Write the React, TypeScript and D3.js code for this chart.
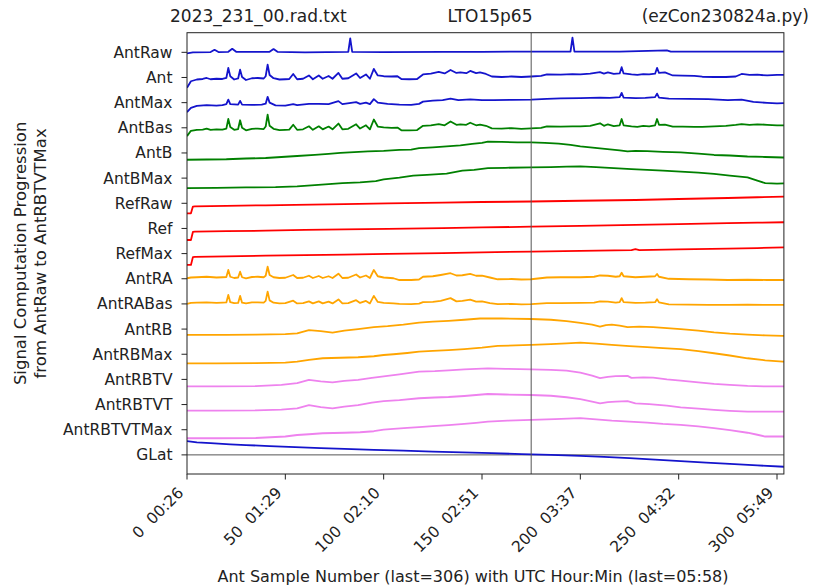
import React from 'react';
import * as d3 from 'd3';

const W = 814;
const H = 588;

const TITLE_LEFT = '2023_231_00.rad.txt';
const TITLE_MID = 'LTO15p65';
const TITLE_RIGHT = '(ezCon230824a.py)';
const X_LABEL = 'Ant Sample Number (last=306) with UTC Hour:Min (last=05:58)';
const Y_LABEL_1 = 'Signal Computation Progression';
const Y_LABEL_2 = 'from AntRaw to AntRBTVTMax';

const X_TICKS = [0, 50, 100, 150, 200, 250, 300];
const X_TICK_TIMES = ['00:26', '01:29', '02:10', '02:51', '03:37', '04:32', '05:49'];
const X_MIN = 0;
const X_MAX = 303.5;
const MARK_SAMPLE = 175;

const LABELS = ['AntRaw', 'Ant', 'AntMax', 'AntBas', 'AntB', 'AntBMax', 'RefRaw', 'Ref', 'RefMax',
  'AntRA', 'AntRABas', 'AntRB', 'AntRBMax', 'AntRBTV', 'AntRBTVT', 'AntRBTVTMax', 'GLat'];

const COLORS = ['#1414cc', '#1414cc', '#1414cc', 'green', 'green', 'green', 'red', 'red', 'red',
  'orange', 'orange', 'orange', 'orange', 'violet', 'violet', 'violet', '#1414cc'];

type P = [number, number];

const antRaw: P[] = [[0,-0.04],[3,0],[12,0.01],[14,0.1],[16,0.01],[21,0.02],[23,0.14],[25,0.02],[42,0.02],[44,0.13],[46,0.02],[60,0],[82,0.02],[83,0.55],[84,0.02],[100,0.01],[130,0.02],[150,0.02],[175,0.03],[195,0.03],[196,0.58],[197,0.03],[220,0.03],[244,0.08],[246,0.03],[270,0.03],[306,0.03]];

const ant: P[] = [[0,-0.41],[2,-0.15],[5,-0.08],[8,-0.06],[10,-0.02],[12,-0.07],[15,-0.05],[18,-0.06],[20,-0.02],[21,0.38],[22,0.05],[24,-0.08],[26,-0.04],[27,0.31],[28,0.02],[30,-0.1],[33,-0.03],[36,-0.02],[39,-0.04],[40,0.05],[41,0.51],[42,0.1],[44,-0.03],[47,-0.08],[50,-0.07],[52,-0.06],[54,0.14],[56,-0.07],[59,-0.05],[62,0.08],[64,-0.07],[67,0.08],[69,-0.05],[72,0.06],[74,-0.05],[77,0.18],[79,-0.05],[82,-0.03],[86,0.16],[88,-0.02],[91,0.12],[93,-0.05],[95,0.34],[97,0.08],[100,0.05],[104,0.04],[107,0.05],[109,-0.06],[113,-0.07],[117,-0.06],[120,0.12],[124,0.15],[128,0.22],[131,0.16],[134,0.3],[137,0.18],[139,0.2],[142,0.17],[144,0.26],[147,0.17],[149,0.2],[152,0.14],[155,0.04],[160,0.02],[165,0.04],[170,0.02],[175,0.04],[180,0.06],[183,0.12],[190,0.11],[196,0.13],[200,0.12],[205,0.15],[210,0.21],[212,0.15],[214,0.2],[217,0.14],[220,0.16],[221,0.41],[222,0.16],[226,0.12],[229,0.1],[232,0.13],[235,0.12],[238,0.15],[239,0.38],[240,0.18],[243,0.2],[247,0.08],[252,0.07],[258,0.06],[262,0.03],[268,0.02],[274,0.02],[279,0.04],[282,0.14],[286,0.1],[290,0.11],[295,0.08],[300,0.1],[306,0.1]];

const antMax: P[] = [[0,-0.38],[2,-0.21],[5,-0.13],[10,-0.1],[15,-0.12],[18,-0.1],[20,-0.06],[21,0.12],[22,-0.06],[26,-0.08],[27,0.07],[28,-0.08],[33,-0.09],[38,-0.08],[40,-0.04],[41,0.23],[42,0.0],[45,-0.11],[50,-0.12],[54,-0.06],[56,-0.1],[62,-0.05],[67,-0.05],[72,-0.06],[77,0.06],[79,-0.06],[86,0.02],[88,-0.05],[91,0.0],[93,-0.06],[95,0.14],[97,0.0],[102,-0.05],[108,-0.08],[114,-0.09],[118,-0.05],[120,0.04],[125,0.08],[130,0.1],[134,0.16],[138,0.1],[144,0.13],[150,0.1],[156,0.1],[165,0.11],[175,0.12],[183,0.15],[190,0.17],[200,0.18],[210,0.2],[215,0.19],[220,0.22],[221,0.39],[222,0.2],[228,0.18],[233,0.19],[238,0.22],[239,0.36],[240,0.2],[245,0.16],[255,0.15],[265,0.14],[275,0.1],[282,0.12],[288,0.03],[295,-0.01],[300,-0.03],[306,-0.01]];

const antBas: P[] = [[0,-0.33],[2,-0.12],[5,-0.08],[8,-0.07],[10,-0.03],[12,-0.08],[15,-0.06],[18,-0.07],[20,-0.03],[21,0.35],[22,0.03],[24,-0.08],[26,-0.05],[27,0.3],[28,0.0],[30,-0.1],[33,-0.04],[36,-0.03],[39,-0.05],[40,0.05],[41,0.52],[42,0.08],[44,-0.04],[47,-0.09],[50,-0.08],[52,-0.07],[54,0.12],[56,-0.08],[59,-0.06],[62,0.06],[64,-0.08],[67,0.06],[69,-0.06],[72,0.05],[74,-0.06],[77,0.17],[79,-0.06],[82,-0.04],[86,0.14],[88,-0.03],[91,0.1],[93,-0.06],[95,0.33],[97,0.05],[100,0.02],[104,0.0],[107,0.01],[109,-0.1],[113,-0.1],[117,-0.09],[120,0.08],[124,0.1],[128,0.15],[131,0.1],[134,0.25],[137,0.12],[139,0.14],[142,0.12],[144,0.2],[147,0.1],[149,0.13],[152,0.08],[155,-0.02],[160,-0.03],[165,-0.01],[170,-0.04],[175,-0.02],[180,0.0],[183,0.06],[190,0.05],[196,0.06],[200,0.06],[205,0.08],[210,0.18],[212,0.08],[214,0.14],[217,0.07],[220,0.1],[221,0.35],[222,0.1],[226,0.06],[229,0.04],[232,0.08],[235,0.06],[238,0.1],[239,0.35],[240,0.12],[243,0.13],[247,0.05],[252,0.05],[258,0.04],[262,0.04],[268,0.06],[274,0.08],[279,0.12],[282,0.15],[286,0.12],[290,0.14],[295,0.12],[300,0.1],[306,0.1]];

const antB: P[] = [[0,-0.27],[10,-0.26],[20,-0.25],[30,-0.22],[40,-0.2],[50,-0.15],[56,-0.12],[65,-0.08],[72,-0.04],[78,0.0],[85,0.03],[92,0.06],[100,0.08],[108,0.12],[114,0.13],[118,0.19],[125,0.22],[132,0.26],[139,0.3],[145,0.36],[150,0.4],[153,0.45],[160,0.44],[168,0.42],[175,0.42],[182,0.4],[189,0.37],[195,0.32],[200,0.26],[205,0.22],[210,0.18],[215,0.14],[220,0.1],[224,0.06],[228,0.08],[234,0.07],[242,0.04],[251,0.02],[260,-0.03],[268,-0.08],[276,-0.1],[285,-0.14],[294,-0.16],[303,-0.18],[306,-0.18]];

const antBMax: P[] = [[0,-0.4],[15,-0.39],[30,-0.37],[45,-0.36],[56,-0.33],[65,-0.28],[72,-0.24],[79,-0.2],[88,-0.17],[96,-0.12],[100,-0.05],[108,0.02],[115,0.1],[122,0.13],[132,0.18],[140,0.3],[146,0.33],[153,0.4],[162,0.41],[175,0.43],[185,0.44],[193,0.46],[200,0.47],[208,0.44],[217,0.4],[226,0.36],[234,0.33],[242,0.3],[251,0.26],[260,0.22],[268,0.17],[276,0.1],[285,0.03],[290,-0.1],[294,-0.2],[300,-0.22],[306,-0.2]];

const refRaw: P[] = [[0,-0.4],[2,-0.4],[3,-0.13],[4,-0.12],[20,-0.1],[40,-0.08],[55,-0.06],[80,-0.03],[102,0.0],[130,0.03],[150,0.05],[175,0.07],[200,0.1],[228,0.13],[250,0.17],[275,0.21],[290,0.24],[306,0.27]];

const ref: P[] = [[0,-0.46],[2,-0.46],[3,-0.14],[4,-0.13],[20,-0.11],[40,-0.09],[60,-0.06],[80,-0.04],[102,-0.02],[130,0.01],[150,0.04],[175,0.07],[200,0.1],[228,0.14],[250,0.17],[275,0.21],[290,0.23],[306,0.25]];

const refMax: P[] = [[0,-0.45],[2,-0.45],[3,-0.14],[4,-0.13],[20,-0.11],[40,-0.08],[60,-0.06],[80,-0.04],[102,-0.01],[130,0.02],[150,0.05],[175,0.08],[200,0.11],[226,0.14],[228,0.18],[230,0.14],[250,0.17],[275,0.2],[290,0.22],[306,0.25]];

const antRA: P[] = [[0,0.02],[2,0.05],[5,0.06],[10,0.08],[15,0.05],[18,0.06],[20,0.07],[21,0.35],[22,0.08],[24,0.03],[26,0.05],[27,0.28],[28,0.06],[30,0.02],[33,0.07],[36,0.08],[39,0.06],[40,0.12],[41,0.48],[42,0.15],[44,0.06],[47,0.03],[50,0.04],[54,0.15],[56,0.03],[59,0.04],[62,0.12],[64,0.03],[67,0.11],[69,0.03],[72,0.1],[74,0.03],[77,0.2],[79,0.03],[82,0.04],[86,0.17],[88,0.05],[91,0.13],[93,0.03],[95,0.35],[97,0.1],[100,0.05],[105,0.02],[108,-0.05],[114,-0.05],[118,-0.03],[120,0.08],[125,0.1],[129,0.15],[134,0.22],[137,0.13],[140,0.14],[144,0.19],[147,0.12],[150,0.12],[154,0.05],[158,-0.02],[165,-0.01],[170,-0.03],[175,-0.02],[183,0.05],[190,0.06],[200,0.06],[207,0.08],[210,0.13],[214,0.12],[218,0.08],[220,0.1],[221,0.24],[222,0.1],[228,0.06],[233,0.08],[238,0.1],[239,0.19],[240,0.08],[245,0.0],[255,-0.02],[265,-0.03],[275,-0.05],[285,-0.04],[295,-0.05],[306,-0.05]];

const antRABas: P[] = [[0,0.0],[2,0.04],[5,0.05],[10,0.06],[15,0.04],[18,0.05],[20,0.06],[21,0.36],[22,0.07],[24,0.03],[26,0.04],[27,0.32],[28,0.05],[30,0.02],[33,0.06],[36,0.06],[39,0.05],[40,0.12],[41,0.49],[42,0.14],[44,0.05],[47,0.02],[50,0.03],[54,0.13],[56,0.02],[59,0.03],[62,0.1],[64,0.02],[67,0.1],[69,0.02],[72,0.09],[74,0.02],[77,0.18],[79,0.02],[82,0.03],[86,0.15],[88,0.04],[91,0.12],[93,0.02],[95,0.32],[97,0.08],[100,0.04],[105,0.02],[108,0.0],[114,-0.01],[118,0.01],[120,0.07],[125,0.08],[129,0.12],[134,0.23],[137,0.1],[140,0.12],[144,0.17],[147,0.09],[150,0.1],[154,0.03],[158,-0.01],[165,0.0],[170,-0.02],[175,-0.01],[183,0.03],[190,0.03],[200,0.04],[207,0.05],[210,0.1],[214,0.09],[218,0.05],[220,0.07],[221,0.23],[222,0.07],[228,0.04],[233,0.05],[238,0.07],[239,0.19],[240,0.06],[245,-0.02],[255,-0.03],[265,-0.04],[275,-0.04],[285,-0.03],[295,-0.04],[306,-0.04]];

const antRB: P[] = [[0,-0.23],[20,-0.23],[35,-0.22],[50,-0.2],[56,-0.17],[62,-0.04],[68,-0.08],[74,-0.14],[80,-0.06],[87,0.0],[95,0.08],[102,0.12],[110,0.18],[118,0.26],[125,0.3],[133,0.33],[141,0.37],[149,0.42],[160,0.42],[175,0.4],[185,0.37],[193,0.32],[200,0.25],[206,0.18],[210,0.1],[213,0.16],[216,0.18],[220,0.14],[224,0.08],[230,0.1],[237,0.08],[244,0.04],[251,0.0],[260,-0.06],[268,-0.13],[276,-0.18],[285,-0.22],[294,-0.25],[303,-0.27],[306,-0.27]];

const antRBMax: P[] = [[0,-0.36],[15,-0.36],[35,-0.35],[50,-0.33],[56,-0.29],[62,-0.22],[69,-0.16],[78,-0.14],[87,-0.12],[95,-0.08],[100,-0.03],[105,0.0],[112,0.05],[118,0.1],[125,0.13],[133,0.16],[141,0.2],[150,0.26],[158,0.33],[167,0.35],[175,0.37],[185,0.4],[193,0.43],[200,0.46],[208,0.42],[216,0.37],[225,0.32],[234,0.28],[242,0.24],[251,0.2],[260,0.12],[268,0.04],[276,-0.05],[285,-0.16],[294,-0.24],[303,-0.29],[306,-0.29]];

const antRBTV: P[] = [[0,-0.28],[15,-0.28],[35,-0.27],[48,-0.22],[56,-0.15],[62,-0.02],[68,-0.08],[74,-0.12],[80,-0.06],[87,-0.02],[94,0.06],[100,0.12],[108,0.2],[118,0.31],[126,0.33],[133,0.36],[141,0.4],[147,0.42],[153,0.44],[162,0.42],[175,0.4],[185,0.38],[193,0.35],[200,0.27],[206,0.15],[210,0.05],[214,0.1],[218,0.13],[224,0.14],[226,0.06],[232,0.08],[237,0.07],[244,0.0],[251,-0.05],[260,-0.12],[268,-0.18],[276,-0.22],[285,-0.26],[295,-0.28],[306,-0.28]];

const antRBTVT: P[] = [[0,-0.24],[15,-0.24],[35,-0.23],[48,-0.2],[56,-0.15],[62,-0.02],[68,-0.1],[74,-0.15],[80,-0.08],[87,-0.02],[94,0.08],[100,0.14],[108,0.18],[118,0.25],[126,0.28],[133,0.3],[141,0.34],[147,0.38],[153,0.42],[162,0.4],[175,0.38],[185,0.35],[193,0.29],[200,0.22],[206,0.12],[210,0.05],[214,0.1],[218,0.12],[224,0.14],[228,0.05],[235,0.02],[244,-0.04],[251,-0.11],[260,-0.16],[268,-0.21],[276,-0.25],[285,-0.28],[295,-0.28],[306,-0.28]];

const antRBTVTMax: P[] = [[0,-0.34],[15,-0.34],[35,-0.33],[50,-0.27],[56,-0.21],[62,-0.18],[69,-0.14],[80,-0.12],[88,-0.1],[95,-0.06],[100,0.0],[105,0.03],[112,0.07],[118,0.1],[125,0.14],[133,0.18],[141,0.23],[147,0.27],[153,0.32],[163,0.36],[175,0.39],[187,0.42],[200,0.46],[208,0.41],[216,0.36],[225,0.32],[234,0.28],[242,0.23],[251,0.19],[260,0.13],[268,0.06],[276,-0.02],[285,-0.12],[290,-0.2],[294,-0.27],[306,-0.27]];

const gLat: P[] = [[0,0.55],[5,0.5],[12,0.47],[22,0.42],[30,0.39],[42,0.35],[55,0.31],[68,0.27],[80,0.24],[95,0.2],[110,0.17],[125,0.13],[140,0.1],[155,0.07],[170,0.03],[185,0.0],[200,-0.04],[212,-0.08],[225,-0.13],[238,-0.19],[251,-0.25],[264,-0.31],[276,-0.36],[290,-0.42],[306,-0.48]];

const SERIES: P[][] = [antRaw, ant, antMax, antBas, antB, antBMax, refRaw, ref, refMax,
  antRA, antRABas, antRB, antRBMax, antRBTV, antRBTVT, antRBTVTMax, gLat];

const FONT = '"DejaVu Sans", sans-serif';
const TICK_FS = 15.5;

export default function App() {
  const x = d3.scaleLinear().domain([X_MIN, X_MAX]).range([187, 187 + X_MAX * 1.9667]);
  const y = d3.scaleLinear().domain([-0.76, 16.78]).range([474, 32.7]);
  const n = LABELS.length;
  const left = x(X_MIN);
  const right = x(X_MAX);
  const top = y(16.78);
  const bottom = y(-0.76);
  const tickLen = 5.5;

  return (
    <svg width={W} height={H} style={{ position: 'absolute', left: 0, top: 0, background: '#fff' }}
      fontFamily={FONT}>
      <defs>
        <clipPath id="plotClip">
          <rect x={left} y={top} width={right - left} height={bottom - top} />
        </clipPath>
      </defs>
      <rect x={0} y={0} width={W} height={H} fill="#fff" />
      <g clipPath="url(#plotClip)">
        <line x1={left} x2={right} y1={y(0)} y2={y(0)} stroke="#555" strokeWidth={1} />
        {SERIES.map((s, i) => {
          const off = n - 1 - i;
          const line = d3.line<P>().x(d => x(d[0])).y(d => y(off + d[1]));
          return <path key={LABELS[i]} d={line(s) || ''} fill="none" stroke={COLORS[i]}
            strokeWidth={1.8} strokeLinejoin="round" />;
        })}
        <line x1={x(MARK_SAMPLE)} x2={x(MARK_SAMPLE)} y1={top} y2={bottom} stroke="#555" strokeWidth={1} />
      </g>
      <rect x={left} y={top} width={right - left} height={bottom - top} fill="none" stroke="#222" strokeWidth={1} />
      {LABELS.map((lab, i) => {
        const yy = y(n - 1 - i);
        return (
          <g key={lab}>
            <line x1={left - tickLen} x2={left} y1={yy} y2={yy} stroke="#222" strokeWidth={1} />
            <text x={left - tickLen - 9} y={yy} dy="0.35em" textAnchor="end" fontSize={TICK_FS} fill="#222">{lab}</text>
          </g>
        );
      })}
      {X_TICKS.map((t, i) => {
        const xx = x(t);
        return (
          <g key={t}>
            <line x1={xx} x2={xx} y1={bottom} y2={bottom + tickLen} stroke="#222" strokeWidth={1} />
            <text transform={`translate(${xx - 2.6},${bottom + tickLen + 4 + 10.2}) rotate(-45)`} textAnchor="end"
              fontSize={TICK_FS} fill="#222" style={{ whiteSpace: 'pre' }}>{`${t}  ${X_TICK_TIMES[i]}`}</text>
          </g>
        );
      })}
      <text x={473} y={582} textAnchor="middle" fontSize={16} fill="#222">{X_LABEL}</text>
      <g transform={`translate(26,${(top + bottom) / 2}) rotate(-90)`}>
        <text x={0} y={0} textAnchor="middle" fontSize={16.5} fill="#222">{Y_LABEL_1}</text>
        <text x={0} y={20} textAnchor="middle" fontSize={16.5} fill="#222">{Y_LABEL_2}</text>
      </g>
      <text x={170} y={22} textAnchor="start" fontSize={17} fill="#222">{TITLE_LEFT}</text>
      <text x={490} y={22} textAnchor="middle" fontSize={17} fill="#222">{TITLE_MID}</text>
      <text x={809} y={22} textAnchor="end" fontSize={17} fill="#222">{TITLE_RIGHT}</text>
    </svg>
  );
}
